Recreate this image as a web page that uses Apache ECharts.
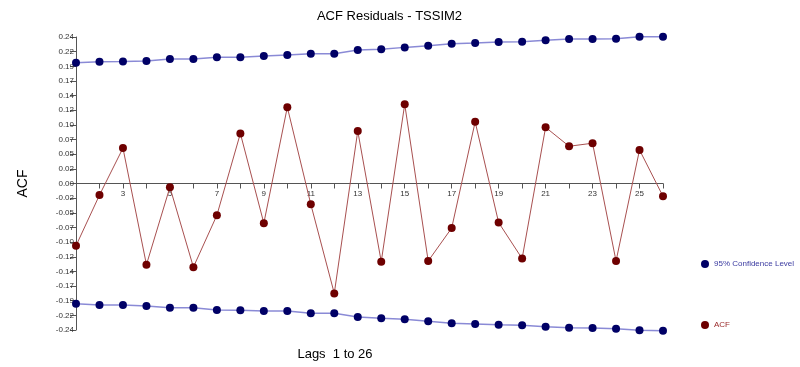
<!DOCTYPE html>
<html>
<head>
<meta charset="utf-8">
<script src="https://cdn.jsdelivr.net/npm/echarts@6/dist/echarts.min.js"></script>
<style>
  html, body { margin: 0; padding: 0; background: #fff; }
  #chart { width: 800px; height: 367px; }
</style>
</head>
<body>
<div id="chart"></div>
<script>
const lags = [1,2,3,4,5,6,7,8,9,10,11,12,13,14,15,16,17,18,19,20,21,22,23,24,25,26];
const acf = [-0.102,-0.019,0.058,-0.133,-0.006,-0.137,-0.052,0.082,-0.065,0.125,-0.034,-0.180,0.086,-0.128,0.130,-0.127,-0.073,0.101,-0.064,-0.123,0.092,0.061,0.066,-0.127,0.055,-0.021];
const upper = [0.198,0.1995,0.200,0.2007,0.204,0.204,0.207,0.207,0.209,0.2105,0.2126,0.2126,0.2187,0.220,0.223,0.2257,0.229,0.230,0.2318,0.2323,0.2346,0.2367,0.2367,0.2372,0.2405,0.2405];
const lower = [-0.197,-0.199,-0.199,-0.2007,-0.2034,-0.2034,-0.2072,-0.2078,-0.2088,-0.2088,-0.2126,-0.2126,-0.2187,-0.2208,-0.2225,-0.2257,-0.229,-0.2301,-0.2313,-0.2323,-0.2345,-0.2362,-0.2367,-0.2378,-0.2405,-0.2411];

const pairs = (ys) => lags.map((x, i) => [x, ys[i]]);

const confColor = '#000066';
const acfColor = '#6e0000';

const myChart = echarts.init(document.getElementById('chart'));
const option = {
  animation: false,
  backgroundColor: '#fff',
  title: [
    {
      text: 'ACF Residuals - TSSIM2',
      left: 384.5,
      textAlign: 'center',
      top: 5,
      textStyle: { fontFamily: 'Liberation Sans', fontSize: 13, fontWeight: 'normal', color: '#000' }
    },
    {
      text: 'Lags  1 to 26',
      left: 330,
      textAlign: 'center',
      top: 343,
      textStyle: { fontFamily: 'Liberation Sans', fontSize: 13, fontWeight: 'normal', color: '#000' }
    }
  ],
  legend: [
    {
      left: 701, top: 260, orient: 'vertical', padding: 0,
      icon: 'circle', itemWidth: 8, itemHeight: 8, itemGap: 4,
      data: [{ name: '95% Confidence Level', textStyle: { color: '#3a3aa0' } }],
      textStyle: { fontFamily: 'Liberation Sans', fontSize: 8 }
    },
    {
      left: 701, top: 321, orient: 'vertical', padding: 0,
      icon: 'circle', itemWidth: 8, itemHeight: 8, itemGap: 4,
      data: [{ name: 'ACF', textStyle: { color: '#9a2a2a' } }],
      textStyle: { fontFamily: 'Liberation Sans', fontSize: 8 }
    }
  ],
  grid: { left: 76, right: 137, top: 37, bottom: 37, containLabel: false, outerBoundsMode: 'none' },
  xAxis: {
    type: 'value',
    min: 1,
    max: 26,
    interval: 1,
    position: 'bottom',
    offset: -146.5,
    axisLine: { onZero: false, lineStyle: { color: '#555', width: 1 } },
    axisTick: { show: true, length: 5, lineStyle: { color: '#555' } },
    axisLabel: {
      fontFamily: 'Liberation Sans', fontSize: 8, color: '#333', margin: 6,
      formatter: (v) => (v % 2 === 1 && v !== 1) ? String(v) : ''
    },
    splitLine: { show: false }
  },
  yAxis: {
    type: 'value',
    min: -0.24,
    max: 0.24,
    interval: 0.024,
    name: 'ACF',
    nameLocation: 'middle',
    nameGap: 46,
    nameTextStyle: { fontFamily: 'Liberation Sans', fontSize: 14, color: '#000' },
    axisLine: { show: true, lineStyle: { color: '#555', width: 1 } },
    axisTick: { show: true, length: 6, lineStyle: { color: '#555' } },
    axisLabel: {
      fontFamily: 'Liberation Sans', fontSize: 8, color: '#333', margin: 2,
      formatter: (v) => v.toFixed(2)
    },
    splitLine: { show: false }
  },
  series: [
    {
      name: '95% Confidence Level',
      type: 'line',
      data: pairs(upper),
      clip: false,
      symbol: 'circle',
      symbolSize: 8,
      itemStyle: { color: confColor },
      lineStyle: { color: '#8a8ad6', width: 1.5 }
    },
    {
      name: '95% Confidence Level',
      type: 'line',
      data: pairs(lower),
      clip: false,
      symbol: 'circle',
      symbolSize: 8,
      itemStyle: { color: confColor },
      lineStyle: { color: '#8a8ad6', width: 1.5 }
    },
    {
      name: 'ACF',
      type: 'line',
      data: pairs(acf),
      clip: false,
      symbol: 'circle',
      symbolSize: 8,
      itemStyle: { color: acfColor },
      lineStyle: { color: '#a85050', width: 1 }
    }
  ]
};
myChart.setOption(option);
</script>
</body>
</html>
